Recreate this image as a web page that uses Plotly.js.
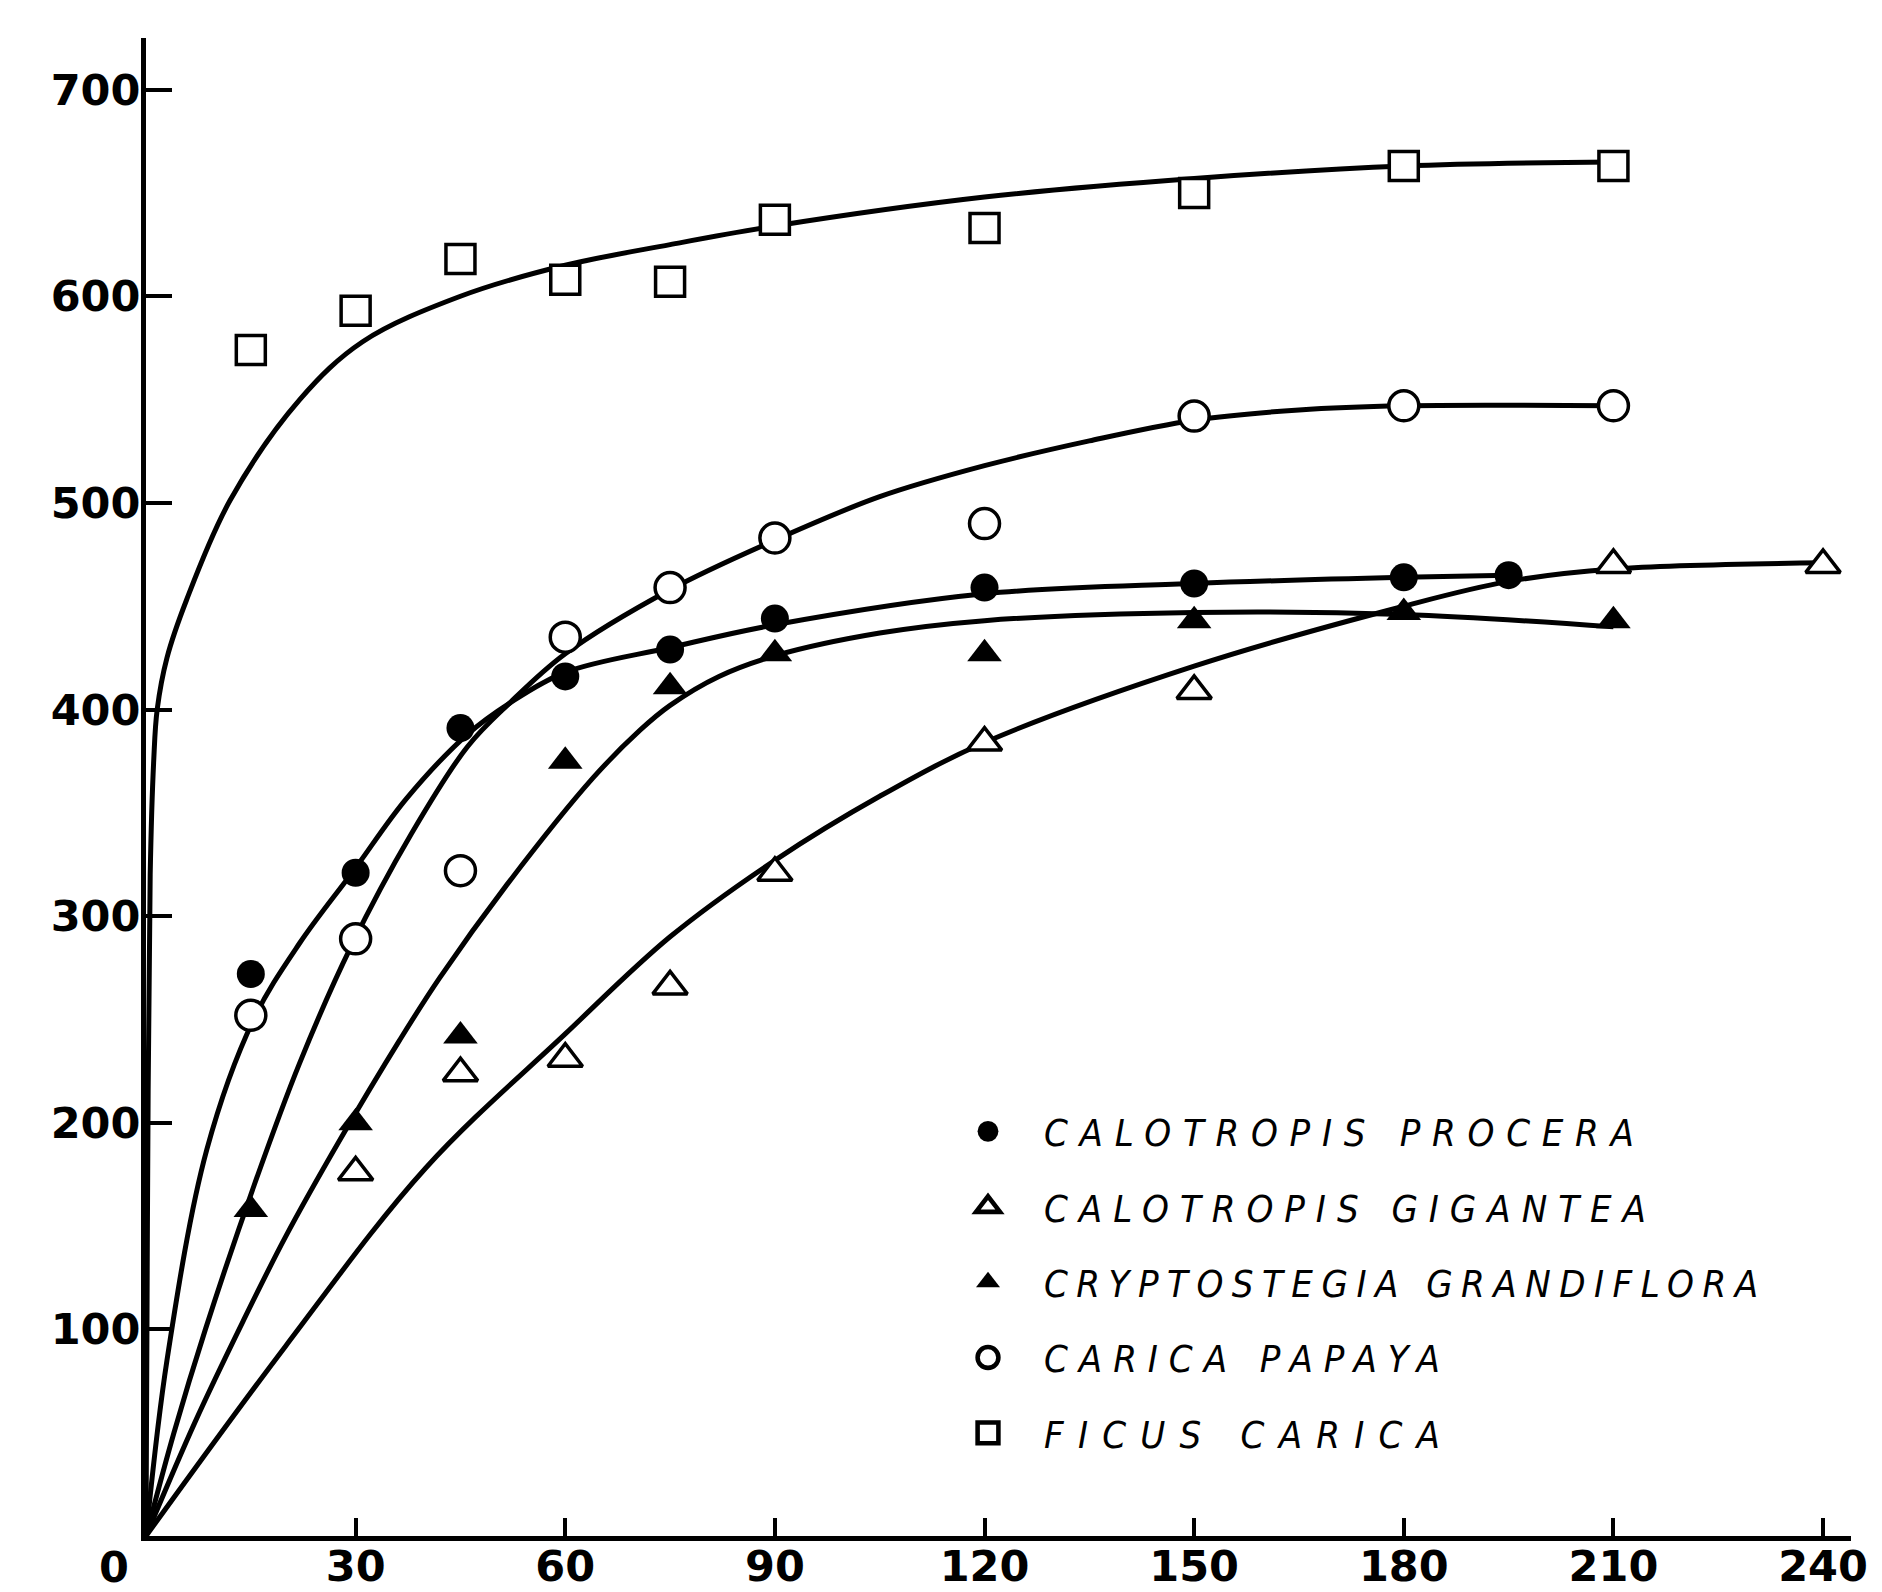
<!DOCTYPE html>
<html><head><meta charset="utf-8">
<script src="https://cdn.plot.ly/plotly-3.0.1.min.js"></script>
<style>html,body{margin:0;padding:0;background:#fff}#chart{width:1882px;height:1592px}</style>
</head><body><div id="chart"></div>
<script>
// ---- data ----
const seriesNames = ['CALOTROPIS PROCERA','CALOTROPIS GIGANTEA','CRYPTOSTEGIA GRANDIFLORA','CARICA PAPAYA','FICUS CARICA'];

const timeProcera = [15,30,45,60,75,90,120,150,180,195];
const valProcera  = [272,321,391,416,429,444,459,461,464,465];
const timeGigantea = [30,45,60,75,90,120,150,210,240];
const valGigantea  = [176,224,231,266,321,384,409,470,470];
const timeCrypto = [15,30,45,60,75,90,120,150,180,210];
const valCrypto  = [158,200,242,375,411,427,427,443,447,443];
const timePapaya = [15,30,45,60,75,90,120,150,180,210];
const valPapaya  = [252,289,322,435,459,483,490,542,547,547];
const timeFicus = [15,30,45,60,75,90,120,150,180,210];
const valFicus  = [574,593,618,608,607,637,633,650,663,663];

// hand-drawn fitted curves
const curveProceraX = [0,3,8.7,15.4,22,29.7,37.3,46,52,60,75,90,120,150,180,195];
const curveProceraY = [0,85,187,250,287,322,357,388,403,418,430,441,456,461,464,465];
const curveGiganteaX = [0,20,40,60,75,90,105,120,150,180,195,210,240];
const curveGiganteaY = [0,92,178,243,290,327,358,384,421,450,462,468,471];
const curveCryptoX = [0,7,13.9,20,27.8,36.3,42,51.6,64,70.7,75,82,90,105,120,150,180,210];
const curveCryptoY = [0,55,104,145,192,240,270,315,367,390,402,416,426,437,443,447,446,440];
const curvePapayaX = [0,4,8.5,15.5,22,29.3,38,46,52,60,75,90,105,120,135,150,165,180,210];
const curvePapayaY = [0,50,100,170,229,285,340,382,403,427,458,482,503,518,530,540,545,547,547];
const curveFicusX = [0,0.2,0.6,1.1,1.6,3,5.8,12,22,31,45,60,75,90,120,150,180,210];
const curveFicusY = [0,150,320,375,400,425,453,501,550,578,600,615,625,634,648,657,663,665];

const xTicks = [30,60,90,120,150,180,210,240];
const xTickText = ['30','60','90','120','150','180','210','240'];
const yTicks = [100,200,300,400,500,600,700];
const yTickText = ['100','200','300','400','500','600','700'];

// ---- styles ----
const markerStyles = [
  {symbol:'circle', color:'black', size:28, line:{color:'black', width:0}},
  {symbol:'triangle-up', color:'white', size:30, line:{color:'black', width:3.5}},
  {symbol:'triangle-up', color:'black', size:30, line:{color:'black', width:0}},
  {symbol:'circle', color:'white', size:30, line:{color:'black', width:3.5}},
  {symbol:'square', color:'white', size:29, line:{color:'black', width:3.5}}
];
// spread widths (px) of the hand-lettered legend entries
const legendTextWidths = [590, 602, 714, 396, 396];

const pts = [
  [timeProcera, valProcera], [timeGigantea, valGigantea], [timeCrypto, valCrypto],
  [timePapaya, valPapaya], [timeFicus, valFicus]
];
const curves = [
  [curveProceraX, curveProceraY], [curveGiganteaX, curveGiganteaY], [curveCryptoX, curveCryptoY],
  [curvePapayaX, curvePapayaY], [curveFicusX, curveFicusY]
];

const data = [];
curves.forEach((c, i) => {
  data.push({x:c[0], y:c[1], type:'scatter', mode:'lines', showlegend:false,
    line:{color:'black', width:5, shape:'spline', smoothing:1}, hoverinfo:'skip'});
});
pts.forEach((p, i) => {
  data.push({x:p[0], y:p[1], type:'scatter', mode:'markers', name:seriesNames[i],
    legendgroup:'g'+i, marker:markerStyles[i], cliponaxis:false});
});

const tickFont = {family:'DejaVu Sans, sans-serif', size:43, color:'black', weight:'bold'};

const layout = {
  width:1882, height:1592,
  margin:{l:146, r:31, t:38, b:56, pad:0},
  paper_bgcolor:'white', plot_bgcolor:'white',
  showlegend:true,
  xaxis:{range:[0,244], tickvals:xTicks, ticktext:xTickText, ticks:'inside', ticklen:18, tickwidth:4,
    tickcolor:'black', showline:true, linewidth:5, linecolor:'black', showgrid:false, zeroline:false,
    tickfont:tickFont, ticklabelstandoff:-12, fixedrange:true},
  yaxis:{range:[0,725], tickvals:yTicks, ticktext:yTickText, ticks:'inside', ticklen:26, tickwidth:4,
    tickcolor:'black', showline:true, linewidth:5, linecolor:'black', showgrid:false, zeroline:false,
    tickfont:tickFont, ticklabelstandoff:-8, fixedrange:true},
  legend:{x:0.461, xanchor:'left', y:0.291, yanchor:'top',
    font:{family:'DejaVu Sans Condensed, DejaVu Sans, sans-serif', size:38, style:'italic', color:'black'},
    bgcolor:'rgba(0,0,0,0)', itemwidth:102, tracegroupgap:23, traceorder:'grouped'},
  annotations:[{text:'0', x:0, xref:'x', y:0, yref:'y', xanchor:'center', yanchor:'top',
    xshift:-32, yshift:-4, showarrow:false, font:tickFont}]
};

Plotly.newPlot('chart', data, layout, {staticPlot:true}).then(gd => {
  const leg = gd.querySelector('.legend');
  if (!leg) return;
  leg.querySelectorAll('[clip-path]').forEach(e => e.removeAttribute('clip-path'));
  leg.querySelectorAll('.traces').forEach(tr => {
    const t = tr.querySelector('.legendtext');
    if (!t) return;
    const idx = seriesNames.indexOf(t.textContent);
    const target = idx >= 0 ? legendTextWidths[idx] : 0;
    const base = t.getComputedTextLength();
    const n = t.textContent.length;
    const ls = Math.max(0, (target - base) / (n - 1));
    t.setAttribute('letter-spacing', ls.toFixed(2) + 'px');
  });
  leg.querySelectorAll('.legendpoints path.scatterpts').forEach(p => {
    const tr = p.getAttribute('transform') || '';
    p.setAttribute('transform', tr + ' scale(1.3)');
  });
});
</script>
</body></html>
